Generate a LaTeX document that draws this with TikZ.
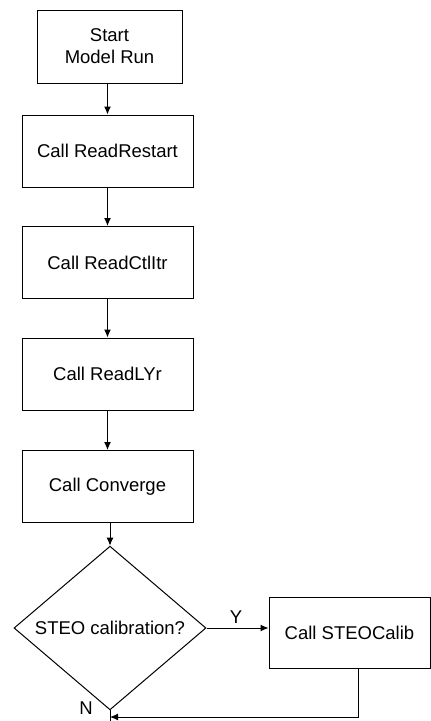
\documentclass[tikz,border=0pt]{standalone}
\usepackage{fontspec}
\setmainfont{Liberation Sans}
\usetikzlibrary{shapes.geometric,arrows.meta,calc}
\begin{document}
\begin{tikzpicture}[x=1pt,y=1pt,
  every node/.style={font=\fontsize{18.5}{22}\selectfont},
  procbox/.style={draw,line width=1pt,minimum width=171,minimum height=72,inner sep=0,align=center},
  decision/.style={draw,line width=1pt,shape=diamond,minimum width=192,minimum height=128,inner sep=0},
  flow/.style={line width=1pt,-{Latex[length=8,width=7]}},
  plain/.style={line width=1pt}]
\useasboundingbox (0,0) rectangle (431,-721);
\node[procbox,minimum width=145,minimum height=73] (start) at (109.5,-46.5) {Start\\Model Run};
\node[procbox] (rr) at (107.5,-151) {Call ReadRestart};
\node[procbox] (ci) at (107.5,-262.5) {Call ReadCtlItr};
\node[procbox] (ly) at (107.5,-374) {Call ReadLYr};
\node[procbox] (cv) at (107.5,-486.5) {Call Converge};
\node[decision] (dia) at (110,-628) {STEO calibration?};
\node[procbox,minimum width=161,minimum height=71] (cal) at (349.5,-632.5) {Call STEOCalib};
\coordinate (ret) at (358,-717);
\coordinate (bot) at (110,-721);
\draw[flow] (start.south -| rr.north) -- (rr.north);
\draw[flow] (rr.south) -- (ci.north);
\draw[flow] (ci.south) -- (ly.north);
\draw[flow] (ly.south) -- (cv.north);
\draw[flow] (cv.south -| dia.north) -- (dia.north);
\draw[flow] (dia.east) -- (dia.east -| cal.west);
\draw[plain] (dia.south) -- (bot);
\draw[flow] (ret |- cal.south) -- (ret) -- (ret -| bot);
\node (y) at (236,-617) {Y};
\node (n) at (86,-708) {N};
\end{tikzpicture}
\end{document}
